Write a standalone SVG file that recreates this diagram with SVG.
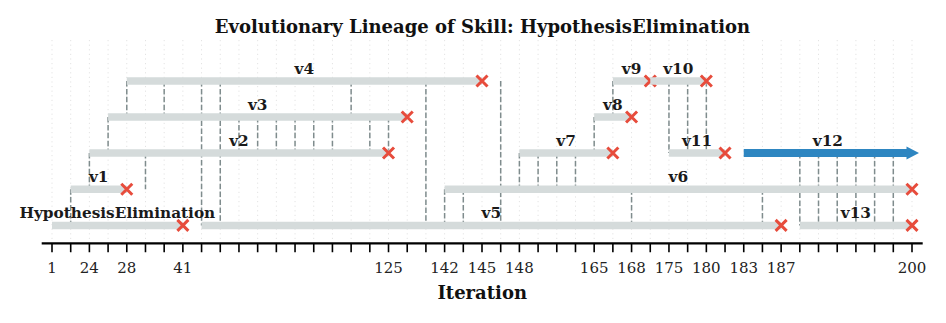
<svg xmlns="http://www.w3.org/2000/svg" width="946" height="323" viewBox="0 0 946 323">
<style>
.grid{stroke:#e3e3e3;stroke-width:1;stroke-dasharray:1.2 3.4}
.bar{stroke:#d5dbdb;stroke-width:7.5;stroke-linecap:butt}
.link{stroke:#7f8c8d;stroke-width:1.5;stroke-dasharray:5.5 2.4;fill:none}
.x{stroke:#e74c3c;stroke-width:3;stroke-linecap:butt}
.lbl{font-family:"DejaVu Serif",serif;font-weight:bold;font-size:15.3px;fill:#1a1a1a;text-anchor:middle}
.tick{stroke:#000;stroke-width:1.6}
.tl{font-family:"DejaVu Serif",serif;font-size:15px;fill:#222;text-anchor:middle}
</style>
<defs>
<path id="xm" class="x" d="M-5.5,-5.5L5.5,5.5M-5.5,5.5L5.5,-5.5"/>
</defs>
<rect width="946" height="323" fill="#fff"/>
<text x="482.5" y="32.7" style="font-family:'DejaVu Serif',serif;font-weight:bold;font-size:18px;fill:#111;text-anchor:middle">Evolutionary Lineage of Skill: HypothesisElimination</text>
<g id="grid">
<line class="grid" x1="52" y1="40" x2="52" y2="243"/><line class="grid" x1="70.7" y1="40" x2="70.7" y2="243"/><line class="grid" x1="89.39" y1="40" x2="89.39" y2="243"/><line class="grid" x1="108.09" y1="40" x2="108.09" y2="243"/><line class="grid" x1="126.78" y1="40" x2="126.78" y2="243"/><line class="grid" x1="145.48" y1="40" x2="145.48" y2="243"/><line class="grid" x1="164.17" y1="40" x2="164.17" y2="243"/><line class="grid" x1="182.87" y1="40" x2="182.87" y2="243"/><line class="grid" x1="201.57" y1="40" x2="201.57" y2="243"/><line class="grid" x1="220.26" y1="40" x2="220.26" y2="243"/><line class="grid" x1="238.96" y1="40" x2="238.96" y2="243"/><line class="grid" x1="257.65" y1="40" x2="257.65" y2="243"/><line class="grid" x1="276.35" y1="40" x2="276.35" y2="243"/><line class="grid" x1="295.04" y1="40" x2="295.04" y2="243"/><line class="grid" x1="313.74" y1="40" x2="313.74" y2="243"/><line class="grid" x1="332.43" y1="40" x2="332.43" y2="243"/><line class="grid" x1="351.13" y1="40" x2="351.13" y2="243"/><line class="grid" x1="369.83" y1="40" x2="369.83" y2="243"/><line class="grid" x1="388.52" y1="40" x2="388.52" y2="243"/><line class="grid" x1="407.22" y1="40" x2="407.22" y2="243"/><line class="grid" x1="425.91" y1="40" x2="425.91" y2="243"/><line class="grid" x1="444.61" y1="40" x2="444.61" y2="243"/><line class="grid" x1="463.3" y1="40" x2="463.3" y2="243"/><line class="grid" x1="482" y1="40" x2="482" y2="243"/><line class="grid" x1="500.7" y1="40" x2="500.7" y2="243"/><line class="grid" x1="519.39" y1="40" x2="519.39" y2="243"/><line class="grid" x1="538.09" y1="40" x2="538.09" y2="243"/><line class="grid" x1="556.78" y1="40" x2="556.78" y2="243"/><line class="grid" x1="575.48" y1="40" x2="575.48" y2="243"/><line class="grid" x1="594.17" y1="40" x2="594.17" y2="243"/><line class="grid" x1="612.87" y1="40" x2="612.87" y2="243"/><line class="grid" x1="631.57" y1="40" x2="631.57" y2="243"/><line class="grid" x1="650.26" y1="40" x2="650.26" y2="243"/><line class="grid" x1="668.96" y1="40" x2="668.96" y2="243"/><line class="grid" x1="687.65" y1="40" x2="687.65" y2="243"/><line class="grid" x1="706.35" y1="40" x2="706.35" y2="243"/><line class="grid" x1="725.04" y1="40" x2="725.04" y2="243"/><line class="grid" x1="743.74" y1="40" x2="743.74" y2="243"/><line class="grid" x1="762.43" y1="40" x2="762.43" y2="243"/><line class="grid" x1="781.13" y1="40" x2="781.13" y2="243"/><line class="grid" x1="799.83" y1="40" x2="799.83" y2="243"/><line class="grid" x1="818.52" y1="40" x2="818.52" y2="243"/><line class="grid" x1="837.22" y1="40" x2="837.22" y2="243"/><line class="grid" x1="855.91" y1="40" x2="855.91" y2="243"/><line class="grid" x1="874.61" y1="40" x2="874.61" y2="243"/><line class="grid" x1="893.3" y1="40" x2="893.3" y2="243"/><line class="grid" x1="912" y1="40" x2="912" y2="243"/>
</g>
<g id="connectors">
<line class="link" x1="70.7" y1="189.2" x2="70.7" y2="225.4"/>
<line class="link" x1="89.39" y1="153" x2="89.39" y2="189.2"/>
<line class="link" x1="108.09" y1="117" x2="108.09" y2="153"/>
<line class="link" x1="126.78" y1="81" x2="126.78" y2="117"/>
<line class="link" x1="145.48" y1="153" x2="145.48" y2="189.2"/>
<line class="link" x1="164.17" y1="81" x2="164.17" y2="117"/>
<line class="link" x1="201.57" y1="81" x2="201.57" y2="225.4"/>
<line class="link" x1="220.26" y1="81" x2="220.26" y2="225.4"/>
<line class="link" x1="238.96" y1="117" x2="238.96" y2="153"/>
<line class="link" x1="257.65" y1="117" x2="257.65" y2="153"/>
<line class="link" x1="276.35" y1="117" x2="276.35" y2="153"/>
<line class="link" x1="295.04" y1="117" x2="295.04" y2="153"/>
<line class="link" x1="313.74" y1="117" x2="313.74" y2="153"/>
<line class="link" x1="332.43" y1="117" x2="332.43" y2="153"/>
<line class="link" x1="351.13" y1="81" x2="351.13" y2="117"/>
<line class="link" x1="369.83" y1="117" x2="369.83" y2="153"/>
<line class="link" x1="388.52" y1="117" x2="388.52" y2="153"/>
<line class="link" x1="425.91" y1="81" x2="425.91" y2="225.4"/>
<line class="link" x1="444.61" y1="189.2" x2="444.61" y2="225.4"/>
<line class="link" x1="463.3" y1="189.2" x2="463.3" y2="225.4"/>
<line class="link" x1="500.7" y1="81" x2="500.7" y2="225.4"/>
<line class="link" x1="519.39" y1="153" x2="519.39" y2="189.2"/>
<line class="link" x1="538.09" y1="153" x2="538.09" y2="189.2"/>
<line class="link" x1="556.78" y1="153" x2="556.78" y2="189.2"/>
<line class="link" x1="575.48" y1="153" x2="575.48" y2="189.2"/>
<line class="link" x1="594.17" y1="117" x2="594.17" y2="153"/>
<line class="link" x1="612.87" y1="81" x2="612.87" y2="117"/>
<line class="link" x1="631.57" y1="189.2" x2="631.57" y2="225.4"/>
<line class="link" x1="668.96" y1="81" x2="668.96" y2="153"/>
<line class="link" x1="687.65" y1="81" x2="687.65" y2="153"/>
<line class="link" x1="706.35" y1="81" x2="706.35" y2="153"/>
<line class="link" x1="762.43" y1="189.2" x2="762.43" y2="225.4"/>
<line class="link" x1="799.83" y1="153" x2="799.83" y2="225.4"/>
<line class="link" x1="818.52" y1="153" x2="818.52" y2="225.4"/>
<line class="link" x1="837.22" y1="153" x2="837.22" y2="225.4"/>
<line class="link" x1="855.91" y1="153" x2="855.91" y2="225.4"/>
<line class="link" x1="874.61" y1="153" x2="874.61" y2="225.4"/>
<line class="link" x1="893.3" y1="153" x2="893.3" y2="225.4"/>
</g>
<g id="node-root"><line class="bar" x1="52" y1="225.4" x2="182.87" y2="225.4"/><use href="#xm" x="182.87" y="225.4"/><text class="lbl" x="117.4" y="218.4">HypothesisElimination</text></g>
<g id="node-v1"><line class="bar" x1="70.7" y1="189.2" x2="126.78" y2="189.2"/><use href="#xm" x="126.78" y="189.2"/><text class="lbl" x="98.7" y="182.2">v1</text></g>
<g id="node-v2"><line class="bar" x1="89.39" y1="153" x2="388.52" y2="153"/><use href="#xm" x="388.52" y="153"/><text class="lbl" x="238.96" y="146">v2</text></g>
<g id="node-v3"><line class="bar" x1="108.09" y1="117" x2="407.22" y2="117"/><use href="#xm" x="407.22" y="117"/><text class="lbl" x="257.65" y="110">v3</text></g>
<g id="node-v4"><line class="bar" x1="126.78" y1="81" x2="482" y2="81"/><use href="#xm" x="482" y="81"/><text class="lbl" x="304.39" y="74">v4</text></g>
<g id="node-v5"><line class="bar" x1="201.57" y1="225.4" x2="781.13" y2="225.4"/><use href="#xm" x="781.13" y="225.4"/><text class="lbl" x="491.35" y="218.4">v5</text></g>
<g id="node-v6"><line class="bar" x1="444.61" y1="189.2" x2="912" y2="189.2"/><use href="#xm" x="912" y="189.2"/><text class="lbl" x="678.3" y="182.2">v6</text></g>
<g id="node-v7"><line class="bar" x1="519.39" y1="153" x2="612.87" y2="153"/><use href="#xm" x="612.87" y="153"/><text class="lbl" x="566.13" y="146">v7</text></g>
<g id="node-v8"><line class="bar" x1="594.17" y1="117" x2="631.57" y2="117"/><use href="#xm" x="631.57" y="117"/><text class="lbl" x="612.87" y="110">v8</text></g>
<g id="node-v9"><line class="bar" x1="612.87" y1="81" x2="650.26" y2="81"/><use href="#xm" x="650.26" y="81"/><text class="lbl" x="631.57" y="74">v9</text></g>
<g id="node-v10"><line class="bar" x1="650.26" y1="81" x2="706.35" y2="81"/><use href="#xm" x="706.35" y="81"/><text class="lbl" x="678.3" y="74">v10</text></g>
<g id="node-v11"><line class="bar" x1="668.96" y1="153" x2="725.04" y2="153"/><use href="#xm" x="725.04" y="153"/><text class="lbl" x="697" y="146">v11</text></g>
<g id="node-v12"><path d="M743.74,149 L906.5,149 L906.5,146.5 L919,153 L906.5,159.5 L906.5,157 L743.74,157 Z" fill="#2e86c1"/><text class="lbl" x="827.87" y="146">v12</text></g>
<g id="node-v13"><line class="bar" x1="799.83" y1="225.4" x2="912" y2="225.4"/><use href="#xm" x="912" y="225.4"/><text class="lbl" x="855.91" y="218.4">v13</text></g>
<g id="axis">
<line x1="41.7" y1="243.3" x2="922.7" y2="243.3" stroke="#000" stroke-width="2.2"/>
<path class="tick" d="M52,243.3v9M70.7,243.3v9M89.39,243.3v9M108.09,243.3v9M126.78,243.3v9M145.48,243.3v9M164.17,243.3v9M182.87,243.3v9M201.57,243.3v9M220.26,243.3v9M238.96,243.3v9M257.65,243.3v9M276.35,243.3v9M295.04,243.3v9M313.74,243.3v9M332.43,243.3v9M351.13,243.3v9M369.83,243.3v9M388.52,243.3v9M407.22,243.3v9M425.91,243.3v9M444.61,243.3v9M463.3,243.3v9M482,243.3v9M500.7,243.3v9M519.39,243.3v9M538.09,243.3v9M556.78,243.3v9M575.48,243.3v9M594.17,243.3v9M612.87,243.3v9M631.57,243.3v9M650.26,243.3v9M668.96,243.3v9M687.65,243.3v9M706.35,243.3v9M725.04,243.3v9M743.74,243.3v9M762.43,243.3v9M781.13,243.3v9M799.83,243.3v9M818.52,243.3v9M837.22,243.3v9M855.91,243.3v9M874.61,243.3v9M893.3,243.3v9M912,243.3v9"/>
<text class="tl" x="52" y="273.3">1</text><text class="tl" x="89.39" y="273.3">24</text><text class="tl" x="126.78" y="273.3">28</text><text class="tl" x="182.87" y="273.3">41</text><text class="tl" x="388.52" y="273.3">125</text><text class="tl" x="444.61" y="273.3">142</text><text class="tl" x="482" y="273.3">145</text><text class="tl" x="519.39" y="273.3">148</text><text class="tl" x="594.17" y="273.3">165</text><text class="tl" x="631.57" y="273.3">168</text><text class="tl" x="668.96" y="273.3">175</text><text class="tl" x="706.35" y="273.3">180</text><text class="tl" x="743.74" y="273.3">183</text><text class="tl" x="781.13" y="273.3">187</text><text class="tl" x="912" y="273.3">200</text>
<text x="482.2" y="299.3" style="font-family:'DejaVu Serif',serif;font-weight:bold;font-size:18px;fill:#111;text-anchor:middle">Iteration</text>
</g>
</svg>
